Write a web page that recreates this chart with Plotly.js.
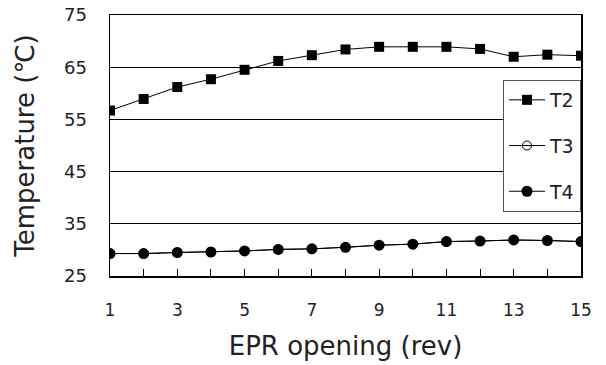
<!DOCTYPE html>
<html><head><meta charset="utf-8">
<script src="https://cdn.plot.ly/plotly-3.0.1.min.js"></script>
<style>html,body{margin:0;padding:0;background:#fff}#c{width:606px;height:365px}</style>
</head><body><div id="c"></div>
<script>
const xVals = [1,2,3,4,5,6,7,8,9,10,11,12,13,14,15];
const t2 = [56.7,58.9,61.2,62.7,64.5,66.2,67.3,68.4,68.9,68.9,68.9,68.5,67.0,67.4,67.2];
const t3 = [29.3,29.3,29.5,29.6,29.8,30.1,30.2,30.5,30.9,31.1,31.6,31.7,31.9,31.8,31.6];
const t4 = [29.3,29.3,29.5,29.6,29.8,30.1,30.2,30.5,30.9,31.1,31.6,31.7,31.9,31.8,31.6];
const xTickText = ['1','','3','','5','','7','','9','','11','','13','','15'];
const yTicks = [25,35,45,55,65,75];

const font = 'DejaVu Sans, sans-serif';
const traces = [
  {x:xVals,y:t2,name:'T2',mode:'lines+markers',legendgroup:'a',
   line:{color:'#000',width:1},marker:{symbol:'square',size:10,color:'#000'}},
  {x:xVals,y:t3,name:'T3',mode:'lines+markers',legendgroup:'b',
   line:{color:'#000',width:1},marker:{symbol:'circle-open',size:9,color:'#000',line:{width:1}}},
  {x:xVals,y:t4,name:'T4',mode:'lines+markers',legendgroup:'c',
   line:{color:'#000',width:1},marker:{symbol:'circle',size:11,color:'#000'}}
];
const layout = {
  width:606,height:365,
  margin:{l:110,r:25,t:15,b:89},
  paper_bgcolor:'#fff',plot_bgcolor:'#fff',
  font:{family:font,color:'#222',size:17},
  showlegend:true,
  legend:{x:1,xanchor:'right',y:0.751,yanchor:'top',bgcolor:'#fff',bordercolor:'#555',borderwidth:1,
    font:{size:19,family:font,color:'#222'},traceorder:'grouped',tracegroupgap:18,itemwidth:36},
  xaxis:{range:[1,15],tickvals:xVals,ticktext:xTickText,ticks:'inside',ticklen:7,tickcolor:'#000',
    showline:true,linecolor:'#000',linewidth:1.5,mirror:true,showgrid:false,zeroline:false,
    tickfont:{size:17,family:font},ticklabelstandoff:18,
    title:{text:'EPR opening (rev)',font:{size:26,family:font},standoff:18}},
  yaxis:{range:[25,75],tickvals:yTicks,ticks:'',showline:true,linecolor:'#000',linewidth:1.5,mirror:true,
    showgrid:true,gridcolor:'#000',gridwidth:1,zeroline:false,tickfont:{size:18,family:font},ticklabelstandoff:18,
    title:{text:'Temperature (℃)',font:{size:26,family:font},standoff:22}}
};
Plotly.newPlot('c',traces,layout,{displayModeBar:false,staticPlot:true});
</script></body></html>
